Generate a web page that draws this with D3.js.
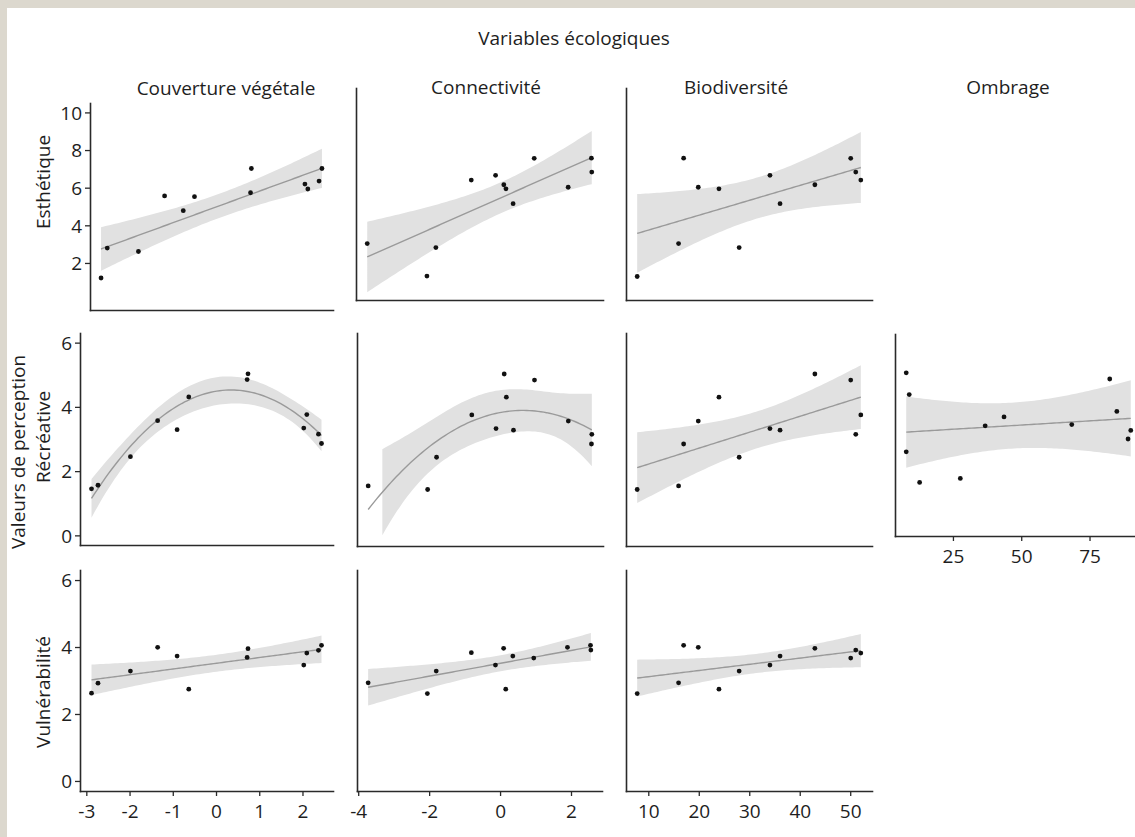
<!DOCTYPE html>
<html>
<head>
<meta charset="utf-8">
<script src="https://cdn.jsdelivr.net/npm/d3@7"></script>
<style>
  body { margin: 0; background: #fff; }
  svg text { font-family: "Open Sans", "Noto Sans", sans-serif; fill: #1e1e1e; }
</style>
</head>
<body>
<svg id="chart" width="1135" height="837"></svg>
<script>
// Titles
const topTitle = "Variables écologiques";
const leftTitle = "Valeurs de perception";
const colTitles = ["Couverture végétale", "Connectivité", "Biodiversité", "Ombrage"];
const rowTitles = ["Esthétique", "Récréative", "Vulnérabilité"];

// x values of the 12 sites, per ecological variable
const xCouverture   = [-2.88, -2.73, -1.98, -1.35, -0.90, -0.63, 0.74, 0.72, 2.03, 2.10, 2.37, 2.44];
const xConnectivite = [-3.72, -2.05, -1.80, -0.81, -0.13, 0.10, 0.16, 0.36, 0.95, 1.90, 2.55, 2.56];
const xBiodiversite = [7.8, 16.0, 17.0, 19.9, 24.0, 28.0, 34.1, 36.1, 43.0, 50.1, 51.1, 52.1];
const xOmbrage      = [7.9, 9.0, 7.9, 12.8, 27.7, 36.8, 43.7, 68.5, 82.4, 85.0, 89.1, 90.1];

// perception values (same order as the x arrays)
const yEsthCouv = [1.20, 2.79, 2.61, 5.56, 4.78, 5.52, 7.02, 5.73, 6.19, 5.93, 6.35, 7.02];
const yEsthConn = [2.43, 0.74, 2.22, 5.72, 5.97, 5.48, 5.27, 4.50, 6.85, 5.35, 6.86, 6.14];
const yEsthBio  = [0.72, 2.43, 6.86, 5.35, 5.27, 2.22, 5.97, 4.50, 5.48, 6.85, 6.14, 5.72];
const yRecrCouv = [1.45, 1.56, 2.45, 3.57, 3.29, 4.31, 5.03, 4.85, 3.34, 3.76, 3.15, 2.86];
const yRecrConn = [1.56, 1.45, 2.45, 3.76, 3.34, 5.03, 4.31, 3.29, 4.84, 3.57, 2.86, 3.16];
const yRecrBio  = [1.45, 1.56, 2.86, 3.57, 4.31, 2.45, 3.34, 3.29, 5.03, 4.84, 3.16, 3.76];
const yRecrOmb  = [5.03, 4.32, 2.45, 1.45, 1.58, 3.30, 3.59, 3.34, 4.83, 3.77, 2.87, 3.15];
const yVulnCouv = [2.62, 2.92, 3.28, 3.99, 3.73, 2.74, 3.95, 3.69, 3.46, 3.82, 3.90, 4.05];
const yVulnConn = [2.93, 2.61, 3.28, 3.83, 3.46, 3.96, 2.74, 3.73, 3.67, 3.99, 4.05, 3.91];
const yVulnBio  = [2.61, 2.93, 4.05, 3.99, 2.74, 3.28, 3.46, 3.73, 3.96, 3.67, 3.91, 3.82];

// tick values
const yTicksEsth  = [2, 4, 6, 8, 10];
const yTicksOther = [0, 2, 4, 6];
const xTicksCouv  = [-3, -2, -1, 0, 1, 2];
const xTicksConn  = [-4, -2, 0, 2];
const xTicksBio   = [10, 20, 30, 40, 50];
const xTicksOmb   = [25, 50, 75];

// y limits per row (ggplot style, expanded by 5%)
const rowLimits = [[0, 10], [0, 6], [0, 6]];

// t quantiles (97.5%) by residual df
const tQuant = {9: 2.262157, 10: 2.228139};

// panel layout: pixel boxes [x0, x1, y0, y1]
const panels = [
  {row: 0, col: 0, box: [90, 333, 103, 310], xs: xCouverture,   ys: yEsthCouv, deg: 1, yTicks: yTicksEsth},
  {row: 0, col: 1, box: [356, 603, 88, 300], xs: xConnectivite, ys: yEsthConn, deg: 1},
  {row: 0, col: 2, box: [626, 872, 88, 300], xs: xBiodiversite, ys: yEsthBio,  deg: 1},
  {row: 1, col: 0, box: [80, 333, 333, 545], xs: xCouverture,   ys: yRecrCouv, deg: 2, yTicks: yTicksOther, clip: true},
  {row: 1, col: 1, box: [357, 603, 333, 546], xs: xConnectivite, ys: yRecrConn, deg: 2, clip: true},
  {row: 1, col: 2, box: [626, 872, 333, 546], xs: xBiodiversite, ys: yRecrBio,  deg: 1, clip: true},
  {row: 1, col: 3, box: [895, 1142, 334, 536], xs: xOmbrage,     ys: yRecrOmb,  deg: 1, clip: true, xTicks: xTicksOmb},
  {row: 2, col: 0, box: [80, 333, 570, 791], xs: xCouverture,   ys: yVulnCouv, deg: 1, yTicks: yTicksOther, xTicks: xTicksCouv, clip: true},
  {row: 2, col: 1, box: [357, 602, 570, 791], xs: xConnectivite, ys: yVulnConn, deg: 1, xTicks: xTicksConn, clip: true},
  {row: 2, col: 2, box: [626, 872, 570, 791], xs: xBiodiversite, ys: yVulnBio,  deg: 1, xTicks: xTicksBio, clip: true}
];

const svg = d3.select("#chart");

// frame
svg.append("rect").attr("width", 1135).attr("height", 837).attr("fill", "#dcd8ce");
svg.append("rect").attr("x", 7).attr("y", 8).attr("width", 1128).attr("height", 829).attr("fill", "#fff");

function expand(ext) {
  const pad = (ext[1] - ext[0]) * 0.05;
  return [ext[0] - pad, ext[1] + pad];
}

// small Gauss-Jordan inverse
function invert(m) {
  const n = m.length;
  const a = m.map((r, i) => r.concat(d3.range(n).map(j => (i === j ? 1 : 0))));
  for (let c = 0; c < n; c++) {
    let p = c;
    for (let r = c + 1; r < n; r++) if (Math.abs(a[r][c]) > Math.abs(a[p][c])) p = r;
    [a[c], a[p]] = [a[p], a[c]];
    const piv = a[c][c];
    for (let j = 0; j < 2 * n; j++) a[c][j] /= piv;
    for (let r = 0; r < n; r++) {
      if (r === c) continue;
      const f = a[r][c];
      for (let j = 0; j < 2 * n; j++) a[r][j] -= f * a[c][j];
    }
  }
  return a.map(r => r.slice(n));
}

// least squares fit with 95% confidence band (like geom_smooth(method = "lm"))
function smooth(xs, ys, deg) {
  const xm = d3.mean(xs);
  const row = x => d3.range(deg + 1).map(k => Math.pow(x - xm, k));
  const X = xs.map(row);
  const p = deg + 1, n = xs.length;
  const XtX = d3.range(p).map(i => d3.range(p).map(j => d3.sum(X, r => r[i] * r[j])));
  const Xty = d3.range(p).map(i => d3.sum(X, (r, k) => r[i] * ys[k]));
  const inv = invert(XtX);
  const beta = inv.map(r => d3.sum(r, (v, j) => v * Xty[j]));
  const rss = d3.sum(X, (r, k) => Math.pow(ys[k] - d3.sum(r, (v, j) => v * beta[j]), 2));
  const s2 = rss / (n - p);
  const t = tQuant[n - p];
  const [x0, x1] = d3.extent(xs);
  return d3.range(80).map(i => {
    const x = x0 + (x1 - x0) * i / 79;
    const r = row(x);
    const fit = d3.sum(r, (v, j) => v * beta[j]);
    let q = 0;
    for (let a = 0; a < p; a++) for (let b = 0; b < p; b++) q += r[a] * inv[a][b] * r[b];
    const se = Math.sqrt(s2 * q);
    return {x, fit, lo: fit - t * se, hi: fit + t * se};
  });
}

// x domains shared by column
const colX = [xCouverture, xConnectivite, xBiodiversite, xOmbrage].map(a => expand(d3.extent(a)));
const fmt = d => String(d);

panels.forEach(pn => {
  const [bx0, bx1, by0, by1] = pn.box;
  const lim = rowLimits[pn.row];
  const x = d3.scaleLinear().domain(colX[pn.col]).range([bx0, bx1]);
  const y = d3.scaleLinear().domain(expand(lim)).range([by1, by0]);
  const g = svg.append("g");

  const fit = smooth(pn.xs, pn.ys, pn.deg);
  const ok = d => !pn.clip || (d.lo >= lim[0] && d.hi <= lim[1]);

  g.append("path")
    .datum(fit)
    .attr("fill", "#e1e1e1")
    .attr("d", d3.area().defined(ok).x(d => x(d.x)).y0(d => y(d.lo)).y1(d => y(d.hi)));

  g.append("path")
    .datum(fit)
    .attr("fill", "none")
    .attr("stroke", "#9a9a9a")
    .attr("stroke-width", 1.4)
    .attr("d", d3.line().x(d => x(d.x)).y(d => y(d.fit)));

  g.selectAll("circle")
    .data(pn.xs.map((v, i) => [v, pn.ys[i]]))
    .join("circle")
    .attr("cx", d => x(d[0]))
    .attr("cy", d => y(d[1]))
    .attr("r", 2.4)
    .attr("fill", "#111");

  const yAxis = g.append("g")
    .attr("transform", `translate(${bx0},0)`)
    .call(d3.axisLeft(y).tickValues(pn.yTicks || []).tickFormat(fmt)
      .tickSize(5).tickSizeOuter(0).tickPadding(3));
  const xAxis = g.append("g")
    .attr("transform", `translate(0,${by1})`)
    .call(d3.axisBottom(x).tickValues(pn.xTicks || []).tickFormat(fmt)
      .tickSize(5).tickSizeOuter(0));

  [yAxis, xAxis].forEach(ax => {
    ax.attr("font-family", null).attr("font-size", 19);
    ax.select(".domain").attr("stroke", "#2a2a2a").attr("stroke-width", 1.6).attr("stroke-linecap", "square");
    ax.selectAll(".tick line").attr("stroke", "#2a2a2a").attr("stroke-width", 1.3);
    ax.selectAll(".tick text").attr("fill", "#1e1e1e").attr("font-size", 19);
  });
  yAxis.selectAll(".tick text").attr("dy", "0.36em");
  xAxis.selectAll(".tick text").attr("y", 27).attr("dy", 0);
});

// column and overall titles
const titleFont = "19px";
svg.append("text").attr("x", 574).attr("y", 45).attr("text-anchor", "middle")
  .style("font-size", titleFont).text(topTitle);

const colTitlePos = [[226, 95], [486, 94], [736, 94], [1008, 94]];
colTitles.forEach((t, i) => {
  svg.append("text").attr("x", colTitlePos[i][0]).attr("y", colTitlePos[i][1])
    .attr("text-anchor", "middle").style("font-size", titleFont).text(t);
});

const rowTitlePos = [[50, 182], [50, 437], [50, 692]];
rowTitles.forEach((t, i) => {
  svg.append("text").attr("transform", `translate(${rowTitlePos[i][0]},${rowTitlePos[i][1]}) rotate(-90)`)
    .attr("text-anchor", "middle").style("font-size", titleFont).text(t);
});
svg.append("text").attr("transform", "translate(25,452) rotate(-90)")
  .attr("text-anchor", "middle").style("font-size", titleFont).text(leftTitle);
</script>
</body>
</html>
